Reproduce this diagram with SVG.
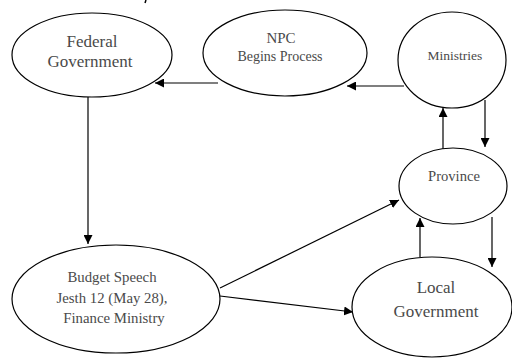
<svg xmlns="http://www.w3.org/2000/svg" width="512" height="358" viewBox="0 0 512 358">
<style>
.n ellipse{fill:#fff;stroke:#000;stroke-width:1.2}
.t{fill:#4a4a4a;text-anchor:middle}
.c line{stroke:#000;stroke-width:1.2;marker-end:url(#ah)}
</style>
<defs>
<marker id="ah" viewBox="0 0 10 10" refX="10" refY="5" markerWidth="9" markerHeight="9" markerUnits="userSpaceOnUse" orient="auto">
<path d="M0,0 L10,5 L0,10 z" fill="#000"/>
</marker>
</defs>
<rect width="512" height="358" fill="#fff"/>
<path d="M146,0 L145,3" stroke="#000" stroke-width="1.5"/>
<g class="c">
<line x1="218" y1="83" x2="155" y2="83"/>
<line x1="404" y1="86" x2="347" y2="86"/>
<line x1="88" y1="97" x2="88" y2="244"/>
<line x1="443" y1="150" x2="443" y2="108"/>
<line x1="485" y1="100" x2="485" y2="147"/>
<line x1="420" y1="257" x2="420" y2="218"/>
<line x1="492" y1="217" x2="492" y2="267"/>
<line x1="220" y1="288" x2="399" y2="200"/>
<line x1="220" y1="296" x2="353" y2="312"/>
</g>
<g font-family="'Liberation Serif', 'Times New Roman', 'DejaVu Serif', serif">
<g id="federal" class="n">
<ellipse cx="92" cy="55" rx="80" ry="42"/>
<text class="t" font-size="17" x="92" y="47">Federal</text>
<text class="t" font-size="17" x="90" y="67">Government</text>
</g>
<g id="npc" class="n">
<ellipse cx="285" cy="53" rx="82" ry="43"/>
<text class="t" font-size="15" x="281" y="43">NPC</text>
<text class="t" font-size="14" x="280" y="61">Begins Process</text>
</g>
<g id="ministries" class="n">
<ellipse cx="452" cy="60" rx="54" ry="48"/>
<text class="t" font-size="13.5" x="455" y="60">Ministries</text>
</g>
<g id="province" class="n">
<ellipse cx="453" cy="186" rx="54" ry="38"/>
<text class="t" font-size="14.6" x="454" y="181">Province</text>
</g>
<g id="local" class="n">
<ellipse cx="432" cy="307" rx="80" ry="50"/>
<text class="t" font-size="17" x="436" y="293">Local</text>
<text class="t" font-size="17" x="436" y="317">Government</text>
</g>
<g id="budget" class="n">
<ellipse cx="116" cy="299" rx="104" ry="54"/>
<text class="t" font-size="14.8" x="112" y="282">Budget Speech</text>
<text class="t" font-size="14.8" x="112" y="303">Jesth 12 (May 28),</text>
<text class="t" font-size="14.8" x="114" y="323">Finance Ministry</text>
</g>
</g>
</svg>
